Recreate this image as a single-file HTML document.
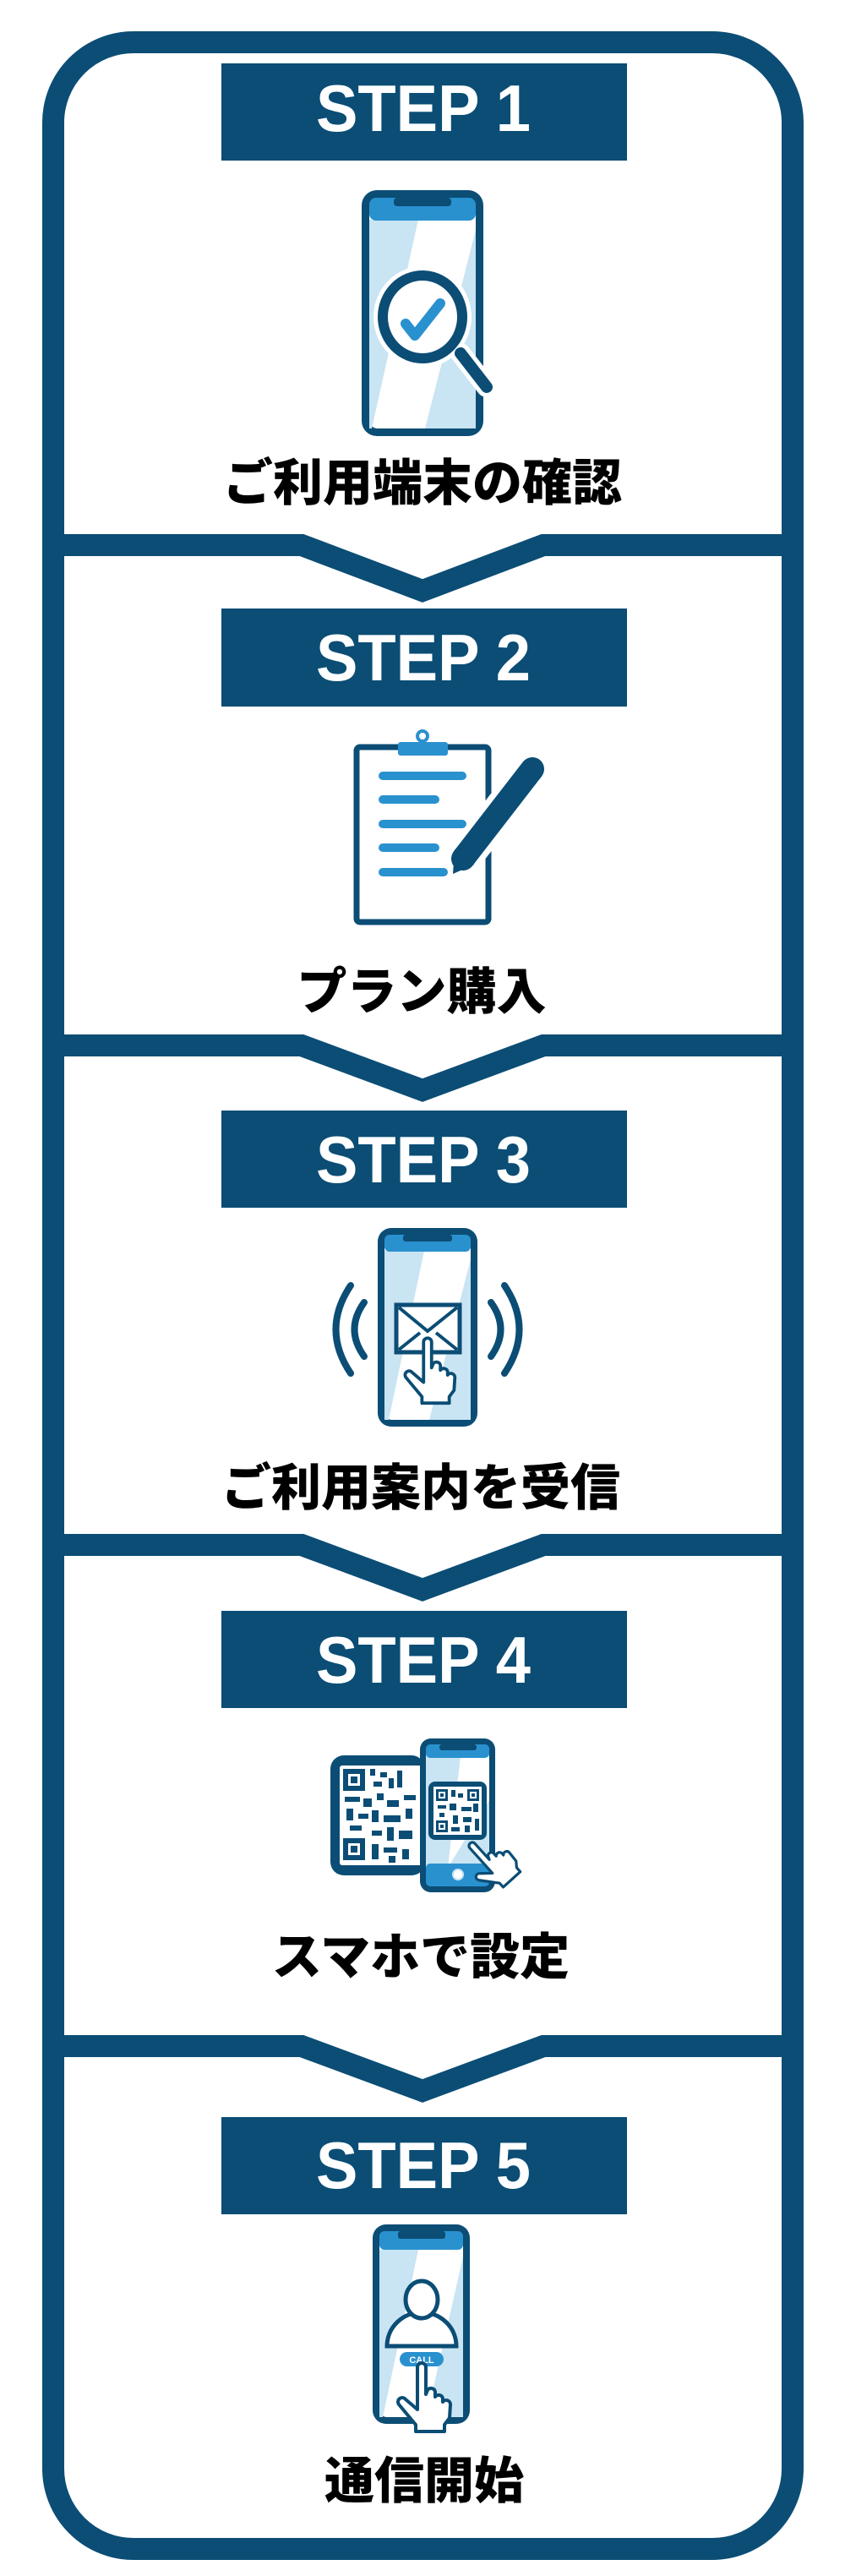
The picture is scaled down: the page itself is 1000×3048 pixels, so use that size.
<!DOCTYPE html>
<html><head><meta charset="utf-8"><style>
html,body{margin:0;padding:0;background:#fff;}
svg{display:block;}
.st{font-family:"Liberation Sans",sans-serif;font-weight:bold;font-size:78px;fill:#fff;}
.lb{font-family:"Liberation Sans","Noto Sans CJK JP",sans-serif;font-weight:900;font-size:59px;fill:#000;}
</style></head><body>
<svg width="1000" height="3048" viewBox="0 0 1000 3048" xmlns="http://www.w3.org/2000/svg">
<defs>
<path id="hand" d="M-5,0 a5,5 0 0 1 10,0 L5,32 L7,27 a5,5 0 0 1 9,2 L16,35 a5,5 0 0 1 9,2 L25,41 a5,5 0 0 1 9,3 L33,60 L27,68 L27,76 L-7,76 L-7,68 L-27,44 a5,5 0 0 1 8,-6 L-5,50 Z" fill="#fff" stroke="#0b4d75" stroke-width="4" stroke-linejoin="round"/>
</defs>
<rect x="63" y="50" width="875" height="2966" rx="95" fill="#fff" stroke="#0b4d75" stroke-width="26"/>
<g fill="none" stroke="#0b4d75" stroke-width="26" stroke-linejoin="miter">
<polyline points="63,645 357,645 500,699 643,645 937,645"/>
<polyline points="63,1237 357,1237 500,1290 643,1237 937,1237"/>
<polyline points="63,1828 357,1828 500,1881 643,1828 937,1828"/>
<polyline points="63,2421 357,2421 500,2474 643,2421 937,2421"/>
</g>
<g fill="#0b4d75">
<rect x="262" y="75" width="480" height="115"/>
<rect x="262" y="720" width="480" height="116"/>
<rect x="262" y="1314" width="480" height="115"/>
<rect x="262" y="1906" width="480" height="115"/>
<rect x="262" y="2505" width="480" height="115"/>
</g>
<text class="st" x="374" y="155" textLength="254" lengthAdjust="spacingAndGlyphs">STEP 1</text>
<text class="st" x="374" y="805" textLength="254" lengthAdjust="spacingAndGlyphs">STEP 2</text>
<text class="st" x="374" y="1399" textLength="254" lengthAdjust="spacingAndGlyphs">STEP 3</text>
<text class="st" x="374" y="1991" textLength="254" lengthAdjust="spacingAndGlyphs">STEP 4</text>
<text class="st" x="374" y="2589" textLength="254" lengthAdjust="spacingAndGlyphs">STEP 5</text>
<text class="lb" x="500" y="592" text-anchor="middle">ご利用端末の確認</text>
<text class="lb" x="499" y="1194" text-anchor="middle">プラン購入</text>
<text class="lb" x="498" y="1781" text-anchor="middle">ご利用案内を受信</text>
<text class="lb" x="498" y="2336" text-anchor="middle">スマホで設定</text>
<text class="lb" x="502" y="2956" text-anchor="middle">通信開始</text>

<rect x="428" y="225" width="144" height="291" rx="18" fill="#0b4d75"/>
<rect x="437" y="234" width="126" height="273" rx="10" fill="#fff"/>
<polygon points="437,260 495,260 440,507 437,507" fill="#c9e4f3"/>
<polygon points="563,272 563,507 503,507" fill="#c9e4f3"/>
<rect x="437" y="234" width="126" height="27" rx="8" fill="#2a91cf"/>
<rect x="466" y="234" width="68" height="10" rx="4" fill="#0b4d75"/>
<line x1="545" y1="418" x2="576" y2="458" stroke="#fff" stroke-width="24" stroke-linecap="round"/>
<ellipse cx="500" cy="375" rx="58" ry="60" fill="#fff"/>
<line x1="545" y1="418" x2="576" y2="458" stroke="#0b4d75" stroke-width="14" stroke-linecap="round"/>
<ellipse cx="500" cy="375" rx="47" ry="49" fill="#fff" stroke="#0b4d75" stroke-width="12"/>
<polyline points="480,383 491,397 521,359" fill="none" stroke="#2a91cf" stroke-width="12" stroke-linecap="round" stroke-linejoin="round"/>

<rect x="422" y="884" width="156" height="207" rx="4" fill="#fff" stroke="#0b4d75" stroke-width="7"/>
<rect x="471" y="878" width="59" height="16" rx="3" fill="#2a91cf"/>
<circle cx="500" cy="871" r="6" fill="#fff" stroke="#2a91cf" stroke-width="4"/>
<g stroke="#2a91cf" stroke-width="10" stroke-linecap="round">
<line x1="453" y1="918" x2="547" y2="918"/>
<line x1="453" y1="946" x2="515" y2="946"/>
<line x1="453" y1="975" x2="547" y2="975"/>
<line x1="453" y1="1003" x2="515" y2="1003"/>
<line x1="453" y1="1032" x2="525" y2="1032"/>
</g>
<line x1="630" y1="910" x2="548" y2="1016" stroke="#fff" stroke-width="42" stroke-linecap="round"/>
<line x1="630" y1="910" x2="548" y2="1016" stroke="#0b4d75" stroke-width="28" stroke-linecap="round"/>
<polygon points="538,1005 561,1023 536,1034" fill="#0b4d75"/>

<rect x="447" y="1453" width="118" height="235" rx="16" fill="#0b4d75"/>
<rect x="455" y="1461" width="102" height="219" rx="9" fill="#fff"/>
<polygon points="455,1480 502,1480 460,1680 455,1680" fill="#c9e4f3"/>
<polygon points="557,1490 557,1680 508,1680" fill="#c9e4f3"/>
<rect x="455" y="1461" width="102" height="20" rx="6" fill="#2a91cf"/>
<rect x="477" y="1461" width="58" height="8" rx="3" fill="#0b4d75"/>
<rect x="469" y="1544" width="75" height="56" fill="#fff" stroke="#0b4d75" stroke-width="5"/>
<polyline points="472,1547 506,1575 541,1547" fill="none" stroke="#0b4d75" stroke-width="4"/>
<line x1="472" y1="1597" x2="497" y2="1577" stroke="#0b4d75" stroke-width="4"/>
<line x1="541" y1="1597" x2="516" y2="1577" stroke="#0b4d75" stroke-width="4"/>
<use href="#hand" transform="translate(506,1588) scale(0.95)"/>
<g fill="none" stroke="#0b4d75" stroke-width="8" stroke-linecap="round">
<path d="M415,1521 Q380,1573 415,1625"/>
<path d="M431,1541 Q408,1573 431,1605"/>
<path d="M597,1521 Q632,1573 597,1625"/>
<path d="M581,1541 Q604,1573 581,1605"/>
</g>

<rect x="391" y="2077" width="112" height="142" rx="16" fill="#0b4d75"/>
<rect x="402" y="2089" width="98" height="118" rx="3" fill="#fff"/>
<g fill="#0b4d75">
<rect x="406" y="2093" width="26" height="26"/><rect x="406" y="2175" width="26" height="26"/>
<rect x="438" y="2093" width="6" height="8"/><rect x="450" y="2097" width="8" height="6"/><rect x="442" y="2108" width="10" height="6"/><rect x="460" y="2104" width="6" height="12"/>
<rect x="470" y="2095" width="6" height="20"/><rect x="408" y="2126" width="18" height="6"/><rect x="430" y="2128" width="10" height="10"/><rect x="446" y="2122" width="8" height="8"/>
<rect x="458" y="2130" width="14" height="8"/><rect x="478" y="2124" width="14" height="6"/><rect x="410" y="2140" width="8" height="14"/><rect x="424" y="2146" width="12" height="6"/>
<rect x="440" y="2142" width="8" height="14"/><rect x="454" y="2148" width="20" height="8"/><rect x="480" y="2140" width="8" height="12"/><rect x="414" y="2160" width="14" height="6"/>
<rect x="440" y="2166" width="12" height="6"/><rect x="458" y="2162" width="8" height="16"/><rect x="472" y="2166" width="16" height="10"/><rect x="440" y="2182" width="8" height="18"/>
<rect x="454" y="2186" width="16" height="6"/><rect x="476" y="2188" width="8" height="12"/><rect x="460" y="2196" width="8" height="8"/>
</g>
<g fill="#fff"><rect x="412" y="2099" width="14" height="14"/><rect x="412" y="2181" width="14" height="14"/></g>
<g fill="#0b4d75"><rect x="415" y="2102" width="8" height="8"/><rect x="415" y="2184" width="8" height="8"/></g>
<rect x="497" y="2057" width="89" height="182" rx="13" fill="#0b4d75"/>
<rect x="504" y="2064" width="75" height="168" rx="7" fill="#c9e4f3"/>
<polygon points="545,2078 579,2078 579,2130 530,2210" fill="#fff"/>
<rect x="504" y="2064" width="75" height="16" rx="5" fill="#2a91cf"/>
<rect x="520" y="2064" width="44" height="7" rx="3" fill="#0b4d75"/>
<rect x="504" y="2205" width="75" height="27" rx="5" fill="#2a91cf"/>
<circle cx="542" cy="2218" r="6" fill="#fff" stroke="#c9e4f3" stroke-width="2"/>
<rect x="507" y="2108" width="69" height="69" rx="8" fill="#0b4d75"/>
<rect x="513" y="2114" width="57" height="57" fill="#fff"/>
<g fill="#0b4d75">
<rect x="516" y="2117" width="14" height="14"/><rect x="553" y="2117" width="14" height="14"/><rect x="516" y="2154" width="14" height="14"/>
<rect x="534" y="2118" width="5" height="8"/><rect x="542" y="2122" width="6" height="5"/><rect x="518" y="2136" width="10" height="4"/><rect x="532" y="2134" width="8" height="8"/>
<rect x="546" y="2138" width="12" height="5"/><rect x="560" y="2134" width="6" height="10"/><rect x="520" y="2145" width="6" height="5"/><rect x="536" y="2148" width="6" height="10"/>
<rect x="548" y="2150" width="10" height="6"/><rect x="562" y="2152" width="5" height="14"/><rect x="534" y="2162" width="10" height="5"/><rect x="550" y="2160" width="6" height="8"/>
</g>
<g fill="#fff"><rect x="519" y="2120" width="8" height="8"/><rect x="556" y="2120" width="8" height="8"/><rect x="519" y="2157" width="8" height="8"/></g>
<g fill="#0b4d75"><rect x="521" y="2122" width="4" height="4"/><rect x="558" y="2122" width="4" height="4"/><rect x="521" y="2159" width="4" height="4"/></g>
<use href="#hand" transform="translate(559,2184) rotate(-42) scale(0.8)"/>

<rect x="441" y="2632" width="115" height="236" rx="16" fill="#0b4d75"/>
<rect x="449" y="2640" width="99" height="220" rx="9" fill="#fff"/>
<polygon points="449,2662 495,2662 453,2860 449,2860" fill="#c9e4f3"/>
<polygon points="548,2670 548,2860 505,2860" fill="#c9e4f3"/>
<rect x="449" y="2640" width="99" height="22" rx="6" fill="#2a91cf"/>
<rect x="471" y="2640" width="56" height="9" rx="3" fill="#0b4d75"/>
<path d="M458,2776 A41,40 0 0 1 540,2776 Z" fill="#fff" stroke="#0b4d75" stroke-width="5"/>
<ellipse cx="499" cy="2721" rx="19" ry="22" fill="#fff" stroke="#0b4d75" stroke-width="5"/>
<rect x="473" y="2783" width="52" height="17" rx="8.5" fill="#2a91cf"/>
<text x="499" y="2796" text-anchor="middle" font-family="Liberation Sans,sans-serif" font-weight="bold" font-size="11" fill="#fff">CALL</text>
<use href="#hand" transform="translate(499,2801)"/>
</svg>
</body></html>
